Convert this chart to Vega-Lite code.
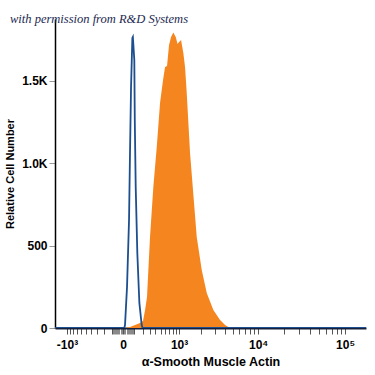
{
  "$schema": "https://vega.github.io/schema/vega-lite/v6.json",
  "autosize": {"type": "none"},
  "padding": {"left": 55, "top": 19, "right": 9, "bottom": 47},
  "width": 311,
  "height": 309,
  "background": "white",
  "title": {
    "text": "with permission from R&D Systems",
    "anchor": "start",
    "frame": "group",
    "dx": -45,
    "dy": 15,
    "offset": -1,
    "baseline": "alphabetic",
    "font": "Liberation Serif",
    "fontStyle": "italic",
    "fontWeight": "normal",
    "fontSize": 12.5,
    "color": "#1c2850"
  },
  "config": {
    "view": {"stroke": null},
    "axis": {
      "labelFont": "Liberation Sans Narrow, Liberation Sans, sans-serif",
      "titleFont": "Liberation Sans Narrow, Liberation Sans, sans-serif",
      "labelFontWeight": "bold",
      "titleFontWeight": "bold",
      "labelColor": "black",
      "titleColor": "black",
      "grid": false
    }
  },
  "datasets": {
    "hist": [
      {"series": "stained", "value": 16, "count": 0},
      {"series": "stained", "value": 60, "count": 6},
      {"series": "stained", "value": 111, "count": 18},
      {"series": "stained", "value": 168, "count": 30},
      {"series": "stained", "value": 206, "count": 43},
      {"series": "stained", "value": 234, "count": 109},
      {"series": "stained", "value": 262, "count": 188},
      {"series": "stained", "value": 308, "count": 552},
      {"series": "stained", "value": 363, "count": 856},
      {"series": "stained", "value": 425, "count": 1099},
      {"series": "stained", "value": 490, "count": 1366},
      {"series": "stained", "value": 555, "count": 1506},
      {"series": "stained", "value": 601, "count": 1585},
      {"series": "stained", "value": 649, "count": 1591},
      {"series": "stained", "value": 700, "count": 1718},
      {"series": "stained", "value": 754, "count": 1767},
      {"series": "stained", "value": 819, "count": 1794},
      {"series": "stained", "value": 892, "count": 1767},
      {"series": "stained", "value": 950, "count": 1724},
      {"series": "stained", "value": 1000, "count": 1736},
      {"series": "stained", "value": 1070, "count": 1749},
      {"series": "stained", "value": 1154, "count": 1670},
      {"series": "stained", "value": 1220, "count": 1585},
      {"series": "stained", "value": 1282, "count": 1445},
      {"series": "stained", "value": 1433, "count": 1063},
      {"series": "stained", "value": 1624, "count": 759},
      {"series": "stained", "value": 1765, "count": 552},
      {"series": "stained", "value": 2054, "count": 352},
      {"series": "stained", "value": 2383, "count": 213},
      {"series": "stained", "value": 2890, "count": 109},
      {"series": "stained", "value": 3500, "count": 49},
      {"series": "stained", "value": 4033, "count": 18},
      {"series": "stained", "value": 4639, "count": 0},
      {"series": "control", "value": -1480, "count": 0},
      {"series": "control", "value": 10, "count": 0},
      {"series": "control", "value": 16, "count": 18},
      {"series": "control", "value": 33, "count": 249},
      {"series": "control", "value": 51, "count": 656},
      {"series": "control", "value": 60, "count": 1063},
      {"series": "control", "value": 70, "count": 1463},
      {"series": "control", "value": 83, "count": 1761},
      {"series": "control", "value": 88, "count": 1767},
      {"series": "control", "value": 103, "count": 1627},
      {"series": "control", "value": 108, "count": 1263},
      {"series": "control", "value": 118, "count": 856},
      {"series": "control", "value": 136, "count": 455},
      {"series": "control", "value": 160, "count": 152},
      {"series": "control", "value": 189, "count": 18},
      {"series": "control", "value": 200, "count": 0},
      {"series": "control", "value": 173000, "count": 0}
    ]
  },
  "data": {"name": "hist"},
  "encoding": {
    "x": {
      "field": "value",
      "type": "quantitative",
      "scale": {"type": "symlog", "constant": 300, "domain": [-1480, 173000], "nice": false, "zero": false},
      "axis": {
        "title": "α-Smooth Muscle Actin",
        "titleFontSize": 12.5,
        "titlePadding": 5,
        "labelFontSize": 12,
        "labelPadding": 5,
        "labelOverlap": false,
        "domainColor": "#16203a",
        "domainWidth": 2,
        "tickSize": 6,
        "tickColor": {"condition": {"test": "abs(datum.value) < 100 && datum.value != 0", "value": "#8a8a8a"}, "value": "#555555"},
        "tickWidth": 1,
        "values": [-1000, -900, -800, -700, -600, -500, -400, -300, -200, -100, -90, -80, -70, -60, -50, -40, -30, -20, -10, 0, 10, 20, 30, 40, 50, 60, 70, 80, 90, 100, 200, 300, 400, 500, 600, 700, 800, 900, 1000, 2000, 3000, 4000, 5000, 6000, 7000, 8000, 9000, 10000, 20000, 30000, 40000, 50000, 60000, 70000, 80000, 90000, 100000],
        "labelExpr": "datum.value == -1000 ? '-10³' : datum.value == 0 ? '0' : datum.value == 1000 ? '10³' : datum.value == 10000 ? '10⁴' : datum.value == 100000 ? '10⁵' : ''"
      }
    },
    "y": {
      "field": "count",
      "type": "quantitative",
      "scale": {"domain": [0, 1876], "nice": false},
      "axis": {
        "title": "Relative Cell Number",
        "titleFontSize": 11,
        "titlePadding": 6,
        "labelFontSize": 12,
        "labelPadding": 2,
        "values": [0, 500, 1000, 1500],
        "labelExpr": "datum.value >= 1000 ? format(datum.value / 1000, '.1f') + 'K' : datum.label",
        "domainColor": "black",
        "domainWidth": 1.5,
        "tickColor": "#999999",
        "tickSize": 6
      }
    }
  },
  "layer": [
    {
      "transform": [{"filter": "datum.series == 'stained'"}],
      "mark": {"type": "area", "color": "#f5861f", "clip": true}
    },
    {
      "transform": [{"filter": "datum.series == 'control'"}],
      "mark": {"type": "line", "color": "#1d4f8f", "strokeWidth": 1.8, "clip": true}
    }
  ]
}
